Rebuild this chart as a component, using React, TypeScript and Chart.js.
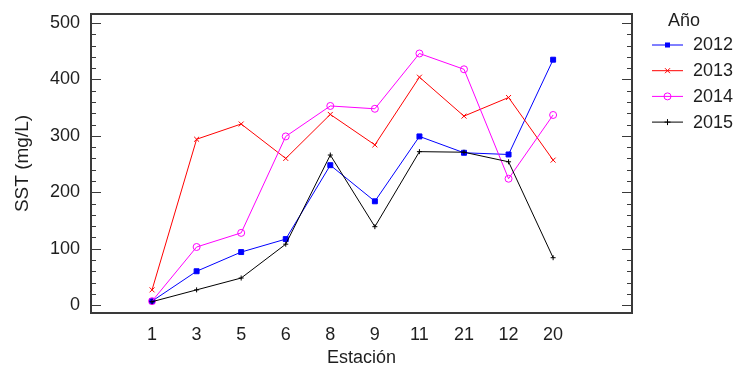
import { useEffect, useRef } from 'react';
import { Chart, registerables } from 'chart.js';

Chart.register(...registerables);

// Sampling stations, in plotted order
const stations = ['1', '3', '5', '6', '8', '9', '11', '21', '12', '20'];

// Total suspended solids (mg/L) per year
const sst2012 = [7, 60, 94, 117, 248, 184, 299, 270, 267, 435];
const sst2013 = [27, 294, 321, 260, 338, 284, 404, 335, 368, 257];
const sst2014 = [7, 103, 128, 299, 353, 348, 446, 418, 224, 337];
const sst2015 = [6, 27, 48, 108, 266, 139, 272, 271, 254, 84];

const yearLabels = ['2012', '2013', '2014', '2015'];
const yTicks = [0, 100, 200, 300, 400, 500];

const FONT_FAMILY = '"Liberation Sans", Arial, sans-serif';
const FONT_SIZE = 18;
const TEXT_COLOR = '#1e1e1e';

type SeriesStyle = { color: string; marker: 'rect' | 'crossRot' | 'circle' | 'cross' };
const seriesStyles: SeriesStyle[] = [
  { color: '#0000ff', marker: 'rect' },
  { color: '#ff0000', marker: 'crossRot' },
  { color: '#ff00ff', marker: 'circle' },
  { color: '#000000', marker: 'cross' },
];
const seriesValues = [sst2012, sst2013, sst2014, sst2015];

function drawMarker(ctx: CanvasRenderingContext2D, kind: string, x: number, y: number, color: string) {
  ctx.save();
  ctx.strokeStyle = color;
  ctx.fillStyle = color;
  ctx.lineWidth = 1;
  ctx.beginPath();
  if (kind === 'rect') {
    ctx.fillRect(x - 2.5, y - 2.5, 5, 5);
  } else if (kind === 'crossRot') {
    ctx.moveTo(x - 2.5, y - 2.5);
    ctx.lineTo(x + 2.5, y + 2.5);
    ctx.moveTo(x + 2.5, y - 2.5);
    ctx.lineTo(x - 2.5, y + 2.5);
    ctx.stroke();
  } else if (kind === 'circle') {
    ctx.arc(x, y, 3.5, 0, Math.PI * 2);
    ctx.stroke();
  } else {
    ctx.moveTo(x - 3, y);
    ctx.lineTo(x + 3, y);
    ctx.moveTo(x, y - 3);
    ctx.lineTo(x, y + 3);
    ctx.stroke();
  }
  ctx.restore();
}

// Frame with inward tick marks on both vertical sides, plus the series legend
const framePlugin = {
  id: 'frameAndLegend',
  afterDraw(chart: any) {
    const { ctx, chartArea } = chart;
    const { left, right, top, bottom } = chartArea;
    const yScale = chart.scales.y;
    ctx.save();

    ctx.strokeStyle = '#3a3a3a';
    ctx.lineWidth = 1;
    for (let v = 0; v <= 500; v += 20) {
      const py = Math.round(yScale.getPixelForValue(v)) + 0.5;
      const len = v % 100 === 0 ? 10 : 5;
      ctx.beginPath();
      ctx.moveTo(left, py);
      ctx.lineTo(left + len, py);
      ctx.moveTo(right, py);
      ctx.lineTo(right - len, py);
      ctx.stroke();
    }

    ctx.lineWidth = 2;
    ctx.strokeStyle = '#3a3a3a';
    ctx.strokeRect(left, top, right - left, bottom - top);

    // Legend
    ctx.font = `${FONT_SIZE}px ${FONT_FAMILY}`;
    ctx.fillStyle = TEXT_COLOR;
    ctx.textAlign = 'left';
    ctx.textBaseline = 'middle';
    ctx.fillText('Año', 668, 21);
    yearLabels.forEach((label, i) => {
      const y = 45 + i * 25.7;
      const st = seriesStyles[i];
      ctx.strokeStyle = st.color;
      ctx.lineWidth = 1;
      ctx.beginPath();
      ctx.moveTo(652, y);
      ctx.lineTo(683, y);
      ctx.stroke();
      drawMarker(ctx, st.marker, 667.5, y, st.color);
      ctx.fillStyle = TEXT_COLOR;
      ctx.fillText(label, 693, y + 0.5);
    });
    ctx.restore();
  },
};

export default function App() {
  const canvasRef = useRef<HTMLCanvasElement | null>(null);

  useEffect(() => {
    if (!canvasRef.current) return;
    const font = { family: FONT_FAMILY, size: FONT_SIZE };

    const datasets = seriesValues.map((vals, i) => {
      const st = seriesStyles[i];
      return {
        label: yearLabels[i],
        data: vals.map((v, idx) => ({ x: idx, y: v })),
        borderColor: st.color,
        backgroundColor: st.marker === 'circle' ? 'rgba(0,0,0,0)' : st.color,
        pointBorderColor: st.color,
        pointBackgroundColor: st.marker === 'circle' ? 'rgba(0,0,0,0)' : st.color,
        pointStyle: st.marker,
        pointRadius: st.marker === 'cross' ? 2.5 : 3.5,
        pointBorderWidth: 1,
        borderWidth: 1,
        tension: 0,
        fill: false,
        order: 3 - i,
      };
    });

    const chart = new Chart(canvasRef.current, {
      type: 'line',
      data: { datasets },
      plugins: [framePlugin],
      options: {
        responsive: false,
        animation: false,
        maintainAspectRatio: false,
        layout: { padding: { left: 0, top: 14, right: 103, bottom: 0 } },
        plugins: { legend: { display: false }, tooltip: { enabled: false } },
        scales: {
          x: {
            type: 'linear',
            min: -1.37,
            max: 10.77,
            grid: { display: false, drawTicks: false },
            border: { display: false },
            ticks: {
              padding: 11,
              font,
              color: TEXT_COLOR,
              autoSkip: false,
              maxRotation: 0,
              callback: (v: any) => stations[v as number] ?? '',
            },
            afterBuildTicks: (s: any) => {
              s.ticks = stations.map((_, i) => ({ value: i }));
            },
            afterFit: (s: any) => {
              s.height = 55;
              s.paddingLeft = 0;
              s.paddingRight = 0;
            },
            title: {
              display: true,
              text: 'Estación',
              font,
              color: TEXT_COLOR,
              padding: { top: 0, bottom: -1 },
            },
          },
          y: {
            type: 'linear',
            min: -14,
            max: 516,
            grid: { display: false, drawTicks: false },
            border: { display: false },
            ticks: { padding: 11, font, color: TEXT_COLOR },
            afterBuildTicks: (s: any) => {
              s.ticks = yTicks.map((v) => ({ value: v }));
            },
            afterFit: (s: any) => {
              s.width = 91;
              s.paddingTop = 0;
              s.paddingBottom = 0;
            },
            title: {
              display: true,
              text: 'SST (mg/L)',
              font: { family: FONT_FAMILY, size: 19 },
              color: TEXT_COLOR,
              padding: { top: 11, bottom: 0 },
            },
          },
        },
      },
    } as any);

    return () => chart.destroy();
  }, []);

  return (
    <div style={{ position: 'fixed', left: 0, top: 0, width: 735, height: 368, background: '#fff' }}>
      <canvas ref={canvasRef} width={735} height={368} />
    </div>
  );
}
